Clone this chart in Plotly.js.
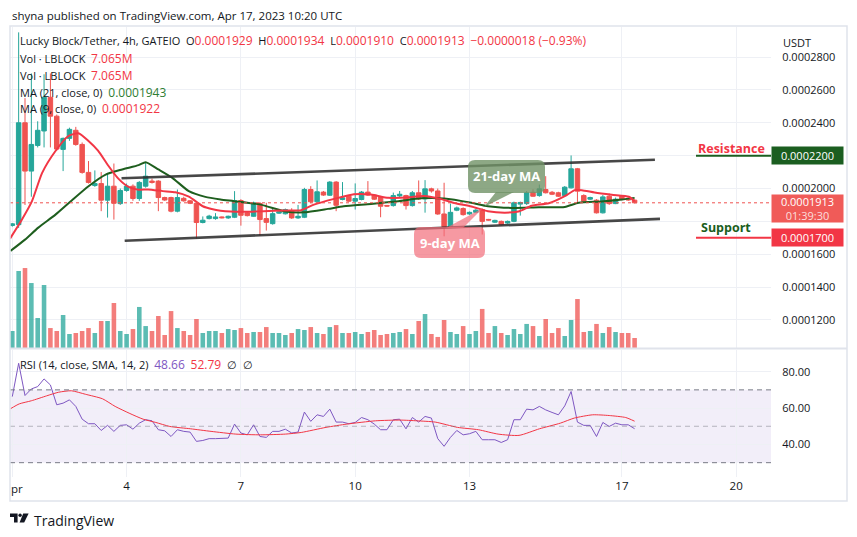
<!DOCTYPE html>
<html><head><meta charset="utf-8">
<script src="https://cdn.plot.ly/plotly-3.0.1.min.js"></script>
<style>html,body{margin:0;padding:0;background:#fff;}#chart{width:857px;height:537px;}</style>
</head><body><div id="chart"></div>
<script>
// ---------- data (4h candles, LBLOCK/USDT, from Apr 1) ----------
const candleOpen = [1775e-7,1780e-7,2400e-7,2106e-7,2262e-7,2350e-7,2555e-7,2440e-7,2238e-7,2305e-7,
2354e-7,2268e-7,2098e-7,2018e-7,2030e-7,1929e-7,2014e-7,1908e-7,1988e-7,2014e-7,
1939e-7,2014e-7,2045e-7,2045e-7,1945e-7,1945e-7,1862e-7,1940e-7,1925e-7,1910e-7,
1793e-7,1817e-7,1817e-7,1827e-7,1821e-7,1825e-7,1927e-7,1852e-7,1831e-7,1908e-7,
1817e-7,1786e-7,1850e-7,1846e-7,1866e-7,1821e-7,1825e-7,1994e-7,1919e-7,1978e-7,
1959e-7,2039e-7,1933e-7,1953e-7,1923e-7,1933e-7,1978e-7,1960e-7,1949e-7,1897e-7,
1896e-7,1955e-7,1957e-7,1896e-7,1974e-7,1937e-7,1998e-7,1985e-7,1845e-7,1766e-7,
1868e-7,1878e-7,1845e-7,1855e-7,1872e-7,1812e-7,1795e-7,1800e-7,1790e-7,1800e-7,
1905e-7,1908e-7,1977e-7,1957e-7,1994e-7,1977e-7,1974e-7,1957e-7,2004e-7,2120e-7,
1957e-7,1935e-7,1929e-7,1852e-7,1953e-7,1908e-7,1953e-7,1937e-7,1929e-7];
const candleHigh = [1790e-7,2950e-7,2550e-7,2700e-7,2409e-7,2695e-7,2700e-7,2450e-7,2310e-7,2370e-7,
2375e-7,2280e-7,2167e-7,2110e-7,2100e-7,2092e-7,2152e-7,2000e-7,2030e-7,2025e-7,
2045e-7,2159e-7,2060e-7,2050e-7,1950e-7,1950e-7,1994e-7,1950e-7,1930e-7,1915e-7,
1830e-7,1840e-7,1850e-7,1830e-7,1835e-7,1984e-7,1935e-7,1860e-7,1920e-7,1918e-7,
1913e-7,1880e-7,1862e-7,1878e-7,1880e-7,1900e-7,2004e-7,2014e-7,2049e-7,1985e-7,
2045e-7,2045e-7,2039e-7,1960e-7,2031e-7,1985e-7,2045e-7,1965e-7,1955e-7,1900e-7,
1975e-7,1985e-7,1962e-7,1985e-7,2049e-7,2051e-7,2005e-7,2000e-7,2035e-7,1908e-7,
1890e-7,1885e-7,1860e-7,1875e-7,1878e-7,1815e-7,1810e-7,1805e-7,1805e-7,1920e-7,
1920e-7,1985e-7,1995e-7,2024e-7,2075e-7,1985e-7,1980e-7,2015e-7,2201e-7,2125e-7,
1965e-7,1950e-7,1935e-7,1960e-7,1970e-7,1945e-7,1960e-7,1945e-7,1934e-7];
const candleLow = [1768e-7,1760e-7,1900e-7,1950e-7,2250e-7,2250e-7,2250e-7,2230e-7,2106e-7,2290e-7,
2260e-7,2090e-7,2030e-7,2010e-7,1862e-7,1823e-7,1811e-7,1900e-7,1980e-7,1925e-7,
1925e-7,2005e-7,2030e-7,1862e-7,1925e-7,1855e-7,1855e-7,1920e-7,1905e-7,1695e-7,
1788e-7,1812e-7,1810e-7,1818e-7,1815e-7,1820e-7,1774e-7,1830e-7,1828e-7,1713e-7,
1744e-7,1780e-7,1845e-7,1842e-7,1815e-7,1815e-7,1820e-7,1910e-7,1912e-7,1955e-7,
1955e-7,1862e-7,1928e-7,1918e-7,1872e-7,1928e-7,1955e-7,1930e-7,1825e-7,1890e-7,
1890e-7,1945e-7,1872e-7,1890e-7,1930e-7,1853e-7,1975e-7,1840e-7,1709e-7,1760e-7,
1862e-7,1835e-7,1840e-7,1850e-7,1720e-7,1805e-7,1790e-7,1775e-7,1785e-7,1795e-7,
1835e-7,1900e-7,1950e-7,1950e-7,1970e-7,1960e-7,1948e-7,1950e-7,2000e-7,1913e-7,
1918e-7,1930e-7,1848e-7,1848e-7,1900e-7,1905e-7,1928e-7,1925e-7,1910e-7];
const candleClose = [1785e-7,2400e-7,2106e-7,2268e-7,2354e-7,2555e-7,2440e-7,2240e-7,2305e-7,2360e-7,
2268e-7,2098e-7,2037e-7,2030e-7,1929e-7,2014e-7,1910e-7,1988e-7,2014e-7,1939e-7,
2037e-7,2075e-7,2037e-7,1945e-7,1930e-7,1862e-7,1945e-7,1925e-7,1910e-7,1793e-7,
1807e-7,1832e-7,1827e-7,1822e-7,1831e-7,1927e-7,1837e-7,1835e-7,1912e-7,1811e-7,
1794e-7,1847e-7,1858e-7,1872e-7,1821e-7,1831e-7,1994e-7,1919e-7,1980e-7,1960e-7,
2039e-7,1898e-7,1943e-7,1923e-7,1939e-7,1978e-7,1960e-7,1935e-7,1892e-7,1893e-7,
1957e-7,1965e-7,1896e-7,1974e-7,1937e-7,1998e-7,1985e-7,1845e-7,1768e-7,1855e-7,
1882e-7,1841e-7,1855e-7,1868e-7,1800e-7,1808e-7,1806e-7,1780e-7,1800e-7,1913e-7,
1915e-7,1974e-7,1953e-7,1998e-7,1974e-7,1965e-7,1953e-7,2008e-7,2120e-7,1984e-7,
1922e-7,1945e-7,1852e-7,1949e-7,1908e-7,1935e-7,1933e-7,1931e-7,1913e-7];
// volume in millions of LBLOCK
const volumeM = [12.0,54.4,56.5,45.9,21.2,44.5,14.1,12.0,23.3,9.9,
10.6,12.0,14.1,10.6,19.1,19.1,31.8,12.0,9.9,13.4,
29.0,15.5,12.0,22.6,9.2,26.1,14.1,12.0,9.2,20.5,
10.6,12.0,12.0,10.6,13.4,12.7,14.1,10.6,11.3,11.3,
14.8,10.6,10.6,9.2,10.6,13.4,12.7,14.8,10.6,9.9,
14.8,16.2,10.6,10.6,11.3,9.9,11.3,12.7,9.2,9.9,
10.6,11.3,13.4,9.9,19.1,24.0,9.9,7.8,19.8,11.3,
9.9,15.5,9.9,12.0,27.6,10.6,15.5,10.6,9.2,13.4,
9.9,17.0,15.5,8.5,20.5,10.6,14.1,8.5,19.8,34.6,
11.3,12.0,17.0,10.6,14.8,11.3,10.6,10.6,7.065];
// moving averages sampled along the drawn lines (candle number, value)
const ma21Candle = [0.7,3.0,5.1,7.8,10.4,13.0,15.7,18.3,20.9,22.0,24.0,26.2,28.8,31.4,33.8,35.9,40.1,43.8,46.9,50.7,53.2,57.5,61.8,65.4,69.0,73.3,75.9,79.6,83.9,88.0,90.2,93.8,97.0,99.0];
const ma21Value = [1620e-7,1689e-7,1762e-7,1841e-7,1929e-7,2014e-7,2085e-7,2116e-7,2142e-7,2160e-7,2116e-7,2065e-7,1984e-7,1949e-7,1933e-7,1923e-7,1902e-7,1862e-7,1855e-7,1876e-7,1892e-7,1906e-7,1923e-7,1940e-7,1939e-7,1913e-7,1892e-7,1882e-7,1886e-7,1888e-7,1913e-7,1921e-7,1933e-7,1943e-7];
const ma9Candle = [0.64,2.5,4.1,5.7,7.8,9.8,11.4,13.0,14.5,16.1,17.7,19.3,20.9,22.4,24.7,26.7,28.8,31.0,32.4,33.8,37.4,40.6,43.8,46.5,48.5,51.7,54.8,57.5,60.2,62.8,65.9,68.1,70.6,73.3,75.9,78.5,80.7,82.8,85.5,88.0,89.6,90.7,92.7,95.4,98.1,99.0];
const ma9Value = [1695e-7,1810e-7,1923e-7,2095e-7,2228e-7,2318e-7,2336e-7,2289e-7,2230e-7,2140e-7,2060e-7,2010e-7,1993e-7,1994e-7,1984e-7,1977e-7,1950e-7,1892e-7,1875e-7,1865e-7,1858e-7,1862e-7,1866e-7,1868e-7,1902e-7,1937e-7,1965e-7,1963e-7,1943e-7,1945e-7,1955e-7,1940e-7,1912e-7,1890e-7,1862e-7,1853e-7,1860e-7,1895e-7,1910e-7,1953e-7,1990e-7,1990e-7,1976e-7,1962e-7,1950e-7,1922e-7];
// RSI (14) per candle and its SMA (14) sampled along the line
const rsiValue = [66.3,84.6,66.9,70.5,71.8,76.0,72.7,61.8,62.7,64.5,
60.9,53.9,51.4,51.4,47.7,50.5,47.2,50.5,50.8,48.4,
51.7,53.6,53.0,48.1,47.5,44.4,48.1,47.2,46.8,41.7,
42.2,43.2,43.2,43.2,43.5,51.2,46.3,45.3,50.8,44.4,
43.9,47.2,47.2,48.4,46.3,46.8,57.8,52.7,56.3,55.4,
59.4,52.3,52.3,51.4,52.1,54.8,53.6,51.2,48.1,48.1,
53.6,53.9,48.6,54.8,52.3,55.4,54.5,43.2,39.0,43.9,
47.7,45.3,45.9,47.2,42.6,42.6,42.6,41.1,42.6,53.6,
53.6,59.4,59.0,60.9,59.0,57.6,56.3,61.2,69.1,52.3,
50.5,50.5,44.4,52.1,49.9,51.7,50.8,50.8,48.66];
const rsiMaCandle = [0.7,2.1,4,6.4,8.3,10.3,12.5,15.2,17.2,19.4,21.6,23.6,25.8,29.1,32.3,36.2,40.1,44,46.5,50.4,53.7,58.2,62.1,64.7,67.6,71.1,74.4,77.5,80.8,84,87.3,89.5,92.4,95,97.6,99];
const rsiMaValue = [59.6,62.3,64,66.7,68.7,69.5,67.6,65.1,60.9,57.2,53.9,52.1,49.9,48.6,47.2,45.7,45.3,45.7,46.6,49.4,51.2,53,53.4,53,52.3,49.4,48.1,45.7,45,48.6,51.7,54.5,56.3,55.9,54.8,52.79];
// hand-drawn channel (candle number, price)
const upperChannelCandle = [18.2,102.2], upperChannelPrice = [2062e-7,2175e-7];
const lowerChannelCandle = [18.7,103.0], lowerChannelPrice = [1682e-7,1815e-7];
const resistanceLevel = 2200e-7, supportLevel = 1700e-7;
// axis labels
const dayLabels = [4,7,10,13,17,20];
const candlesPerDay = 6;
const priceTicks = [1200e-7,1400e-7,1600e-7,1800e-7,2000e-7,2200e-7,2400e-7,2600e-7,2800e-7];
const priceTickText = ['0.0001200','0.0001400','0.0001600','','0.0002000','','0.0002400','0.0002600','0.0002800'];
const rsiTicks = [40,60,80];
const rsiTickText = ['40.00','60.00','80.00'];

// ---------- build ----------
const n = candleClose.length;
const candleNo = candleClose.map((_, i) => i + 1);
const up = candleClose.map((c, i) => c >= candleOpen[i]);
const L = 10, R = 771, T = 27, B = 477;
const px = x => (x - L) / (R - L);
const py = y => (B - y) / (B - T);
const F = 'Open Sans, sans-serif';
const DARK = '#131722', RED = '#f23645', GREEN = '#1b5e20';

const traces = [
  {type:'bar', x:candleNo, y:volumeM, yaxis:'y3', xaxis:'x',
   marker:{color:up.map(u => u ? 'rgba(38,166,154,0.75)' : 'rgba(239,83,80,0.75)'), line:{width:0}},
   hoverinfo:'skip', showlegend:false},
  {type:'candlestick', x:candleNo, open:candleOpen, high:candleHigh, low:candleLow, close:candleClose,
   xaxis:'x', yaxis:'y', whiskerwidth:0,
   increasing:{line:{color:'#26a69a', width:1}, fillcolor:'#26a69a'},
   decreasing:{line:{color:'#ef5350', width:1}, fillcolor:'#ef5350'},
   hoverinfo:'skip', showlegend:false},
  {type:'scatter', mode:'lines', x:ma21Candle, y:ma21Value, xaxis:'x', yaxis:'y',
   line:{color:'#1e5e1e', width:2, shape:'spline', smoothing:0.6}, hoverinfo:'skip', showlegend:false},
  {type:'scatter', mode:'lines', x:ma9Candle, y:ma9Value, xaxis:'x', yaxis:'y',
   line:{color:'#f23645', width:2, shape:'spline', smoothing:0.6}, hoverinfo:'skip', showlegend:false},
  {type:'scatter', mode:'lines', x:candleNo, y:rsiValue, xaxis:'x', yaxis:'y2',
   line:{color:'#7e57c2', width:1}, hoverinfo:'skip', showlegend:false},
  {type:'scatter', mode:'lines', x:rsiMaCandle, y:rsiMaValue, xaxis:'x', yaxis:'y2',
   line:{color:'#f23645', width:1, shape:'spline', smoothing:0.6}, hoverinfo:'skip', showlegend:false}
];

function rrect(x0, y0, x1, y1, r) {
  const P = (x, y) => px(x) + ',' + py(y);
  return 'M' + P(x0 + r, y0) + ' L' + P(x1 - r, y0) + ' Q' + P(x1, y0) + ' ' + P(x1, y0 + r) +
    ' L' + P(x1, y1 - r) + ' Q' + P(x1, y1) + ' ' + P(x1 - r, y1) +
    ' L' + P(x0 + r, y1) + ' Q' + P(x0, y1) + ' ' + P(x0, y1 - r) +
    ' L' + P(x0, y0 + r) + ' Q' + P(x0, y0) + ' ' + P(x0 + r, y0) + ' Z';
}
function poly(pts) {
  return 'M' + pts.map(p => px(p[0]) + ',' + py(p[1])).join(' L') + ' Z';
}
const lastClose = candleClose[n - 1];
const change = lastClose - candleClose[n - 2];
const fx = v => v.toFixed(7);
const shapes = [
  {type:'rect', xref:'paper', yref:'y2', x0:0, x1:1, y0:30, y1:70, fillcolor:'rgba(126,87,194,0.1)', line:{width:0}, layer:'below'},
  {type:'line', xref:'paper', yref:'y2', x0:0, x1:1, y0:70, y1:70, line:{color:'#787b86', width:1, dash:'5px,4px'}},
  {type:'line', xref:'paper', yref:'y2', x0:0, x1:1, y0:30, y1:30, line:{color:'#787b86', width:1, dash:'5px,4px'}},
  {type:'line', xref:'paper', yref:'y2', x0:0, x1:1, y0:50, y1:50, line:{color:'rgba(120,123,134,0.5)', width:1, dash:'5px,4px'}},
  {type:'line', xref:'paper', yref:'y', x0:0, x1:1, y0:lastClose, y1:lastClose, line:{color:'#ef5350', width:1, dash:'dot'}},
  {type:'line', xref:'x', yref:'y', x0:upperChannelCandle[0], x1:upperChannelCandle[1], y0:upperChannelPrice[0], y1:upperChannelPrice[1], line:{color:'rgba(45,45,45,0.88)', width:2.6}},
  {type:'line', xref:'x', yref:'y', x0:lowerChannelCandle[0], x1:lowerChannelCandle[1], y0:lowerChannelPrice[0], y1:lowerChannelPrice[1], line:{color:'rgba(45,45,45,0.88)', width:2.6}},
  {type:'line', xref:'paper', yref:'y', x0:px(696), x1:1, y0:resistanceLevel, y1:resistanceLevel, line:{color:GREEN, width:2}},
  {type:'line', xref:'paper', yref:'y', x0:px(696), x1:1, y0:supportLevel, y1:supportLevel, line:{color:RED, width:2}},
  {type:'path', xref:'paper', yref:'paper', path:rrect(468,160,545,193,7), fillcolor:'rgba(112,146,103,0.8)', line:{width:0}},
  {type:'path', xref:'paper', yref:'paper', path:poly([[496,192],[514,192],[484,207]]), fillcolor:'rgba(112,146,103,0.8)', line:{width:0}},
  {type:'path', xref:'paper', yref:'paper', path:rrect(414,227,485,258,7), fillcolor:'rgba(242,110,122,0.7)', line:{width:0}},
  {type:'path', xref:'paper', yref:'paper', path:poly([[446,228],[463,228],[483,208]]), fillcolor:'rgba(242,110,122,0.7)', line:{width:0}},
  {type:'rect', xref:'paper', yref:'paper', x0:px(10), x1:px(847), y0:py(501), y1:py(26), line:{color:'#e0e3eb', width:1.5}, fillcolor:'rgba(0,0,0,0)'},
  {type:'line', xref:'paper', yref:'paper', x0:px(10), x1:px(847), y0:py(348.5), y1:py(348.5), line:{color:'#e0e3eb', width:2}},
  {type:'path', xref:'paper', yref:'paper', path:poly([[10,513.5],[17.6,513.5],[17.6,522.5],[14,522.5],[14,517],[10,517]]), fillcolor:DARK, line:{width:0}},
  {type:'circle', xref:'paper', yref:'paper', x0:px(18.4), x1:px(21.8), y0:py(513.5), y1:py(516.9), fillcolor:DARK, line:{width:0}},
  {type:'path', xref:'paper', yref:'paper', path:poly([[23.2,513.5],[28.6,513.5],[24.2,522.5],[19.6,522.5]]), fillcolor:DARK, line:{width:0}}
];

const ann = (o) => Object.assign({showarrow:false, xref:'paper', yref:'paper', xanchor:'left', yanchor:'middle', font:{family:F, size:11, color:DARK}}, o);
const sp = (c, t) => '<span style="color:' + c + ';font-size:12px">' + t + '</span>';
const NB = '\u00a0';
const annotations = [
  ann({x:px(10), y:py(15), text:'shyna published on TradingView.com, Apr 17, 2023 10:20 UTC', font:{family:F, size:11.5, color:DARK}}),
  ann({x:px(18), y:py(41), text:'Lucky Block/Tether, 4h, GATEIO' + NB + NB + 'O' + sp(RED, fx(candleOpen[n-1])) + NB + NB + 'H' + sp(RED, fx(candleHigh[n-1])) + NB + NB + 'L' + sp(RED, fx(candleLow[n-1])) + NB + NB + 'C' + sp(RED, fx(lastClose)) + NB + NB + sp(RED, '\u2212' + fx(Math.abs(change)) + ' (\u2212' + (Math.abs(change) / candleClose[n-2] * 100).toFixed(2) + '%)')}),
  ann({x:px(18), y:py(58), text:'Vol \u00b7 LBLOCK' + NB + NB + sp(RED, volumeM[n-1].toFixed(3) + 'M')}),
  ann({x:px(18), y:py(75), text:'Vol \u00b7 LBLOCK' + NB + NB + sp(RED, volumeM[n-1].toFixed(3) + 'M')}),
  ann({x:px(18), y:py(92), text:'MA (21, close, 0)' + NB + NB + sp('#2e7d32', fx(ma21Value[ma21Value.length-1]))}),
  ann({x:px(18), y:py(109), text:'MA (9, close, 0)' + NB + NB + sp(RED, fx(ma9Value[ma9Value.length-1]))}),
  ann({x:px(18), y:py(364), text:'RSI (14, close, SMA, 14, 2)' + NB + NB + sp('#7e57c2', rsiValue[n-1].toFixed(2)) + NB + NB + sp(RED, rsiMaValue[rsiMaValue.length-1].toFixed(2)) + NB + NB + '\u2205' + NB + NB + '\u2205'}),
  ann({x:px(781), y:py(42), text:'USDT', font:{family:F, size:11, color:DARK}}),
  ann({x:px(767), xanchor:'right', y:py(148), text:'<b>Resistance</b>', font:{family:F, size:12.5, color:RED}}),
  ann({x:px(699), y:py(227.5), text:'<b>Support</b>', font:{family:F, size:12.5, color:GREEN}}),
  ann({x:1, yref:'y', y:resistanceLevel, text:fx(resistanceLevel), bgcolor:'#1b5e20', width:71, height:17, borderpad:0, align:'center', font:{family:F, size:11, color:'#ffffff'}}),
  ann({x:1, y:py(208.5), text:fx(lastClose) + '<br><span style="color:rgba(255,255,255,0.8)">01:39:30</span>', bgcolor:'#f05b58', width:71, height:27, borderpad:0, align:'center', font:{family:F, size:11, color:'#ffffff'}}),
  ann({x:1, yref:'y', y:supportLevel, text:fx(supportLevel), bgcolor:RED, width:71, height:17, borderpad:0, align:'center', font:{family:F, size:11, color:'#ffffff'}}),
  ann({x:px(506.5), xanchor:'center', y:py(176), text:'<b>21-day MA</b>', font:{family:F, size:13, color:'#ffffff'}}),
  ann({x:px(449.5), xanchor:'center', y:py(242.5), text:'<b>9-day MA</b>', font:{family:F, size:13, color:'#ffffff'}}),
  ann({x:px(16.5), xanchor:'center', y:py(488), text:'pr', font:{family:F, size:11.5, color:DARK}}),
  ann({x:px(32), y:py(520), text:'TradingView', font:{family:F, size:14, color:DARK}})
];

const layout = {
  width:857, height:537,
  margin:{l:L, r:857 - R, t:T, b:537 - B, pad:0},
  paper_bgcolor:'#ffffff', plot_bgcolor:'#ffffff',
  font:{family:F, size:11, color:DARK},
  showlegend:false, bargap:0.28, boxgap:0.12, boxgroupgap:0.2,
  xaxis:{range:[1 + (L - 12.3) / 6.35, 1 + (R - 12.3) / 6.35], anchor:'y2',
    tickvals:[1].concat(dayLabels.map(d => 1 + candlesPerDay * (d - 1))),
    ticktext:[''].concat(dayLabels.map(String)),
    tickmode:'array', showgrid:true, gridcolor:'#eef0f5', gridwidth:1, zeroline:false, showline:false,
    ticks:'', tickfont:{family:F, size:11.5, color:DARK}, rangeslider:{visible:false}, fixedrange:true},
  yaxis:{domain:[(B - 348) / (B - T), 1], range:[0.0002 - (348 - 188.5) * 6.084e-7, 0.0002 + (188.5 - T) * 6.084e-7],
    side:'right', anchor:'x', tickmode:'array', tickvals:priceTicks, ticktext:priceTickText,
    showgrid:true, gridcolor:'#eef0f5', zeroline:false, showline:false,
    ticks:'outside', ticklen:8, tickcolor:'rgba(0,0,0,0)', tickfont:{family:F, size:11, color:DARK}},
  yaxis3:{overlaying:'y', range:[0, 321 * 0.7065], visible:false, showgrid:false, zeroline:false},
  yaxis2:{domain:[0, (B - 350) / (B - T)], range:[40 - (B - 444.4) / 1.825, 80 + (371.7 - 350) / 1.825],
    side:'right', anchor:'x', tickmode:'array', tickvals:rsiTicks, ticktext:rsiTickText,
    showgrid:true, gridcolor:'#eef0f5', zeroline:false, showline:false,
    ticks:'outside', ticklen:8, tickcolor:'rgba(0,0,0,0)', tickfont:{family:F, size:11, color:DARK}},
  shapes:shapes, annotations:annotations
};
Plotly.newPlot('chart', traces, layout, {staticPlot:true, displayModeBar:false});
</script></body></html>
